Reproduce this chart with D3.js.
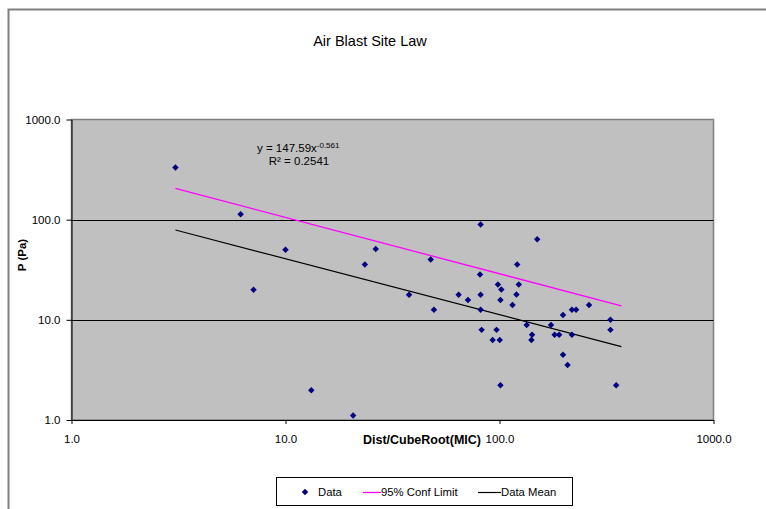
<!DOCTYPE html>
<html><head><meta charset="utf-8">
<script src="https://cdn.jsdelivr.net/npm/d3@7"></script>
<style>body{margin:0;background:#fff;}svg{display:block;}text{font-family:"Liberation Sans",Arial,sans-serif;}</style>
</head><body>
<script>
const dataX = [3.06,6.17,7.09,10.0,13.2,20.7,23.5,26.4,37.8,47.7,49.4,64.4,71.2,81.6,81.1,81.6,81.6,82.5,92.9,96.9,98.3,100.3,101,101,102,115,120,121,123,134,141,142,150,174,181,190,198,198,208,218,218,228,262,330,330,351];
const dataY = [331,113,20,50,1.98,1.11,35.7,51,17.8,40.1,12.6,17.8,15.8,89.7,28.4,17.8,12.6,7.94,6.3,7.94,22.5,6.3,2.22,15.8,20.1,14.1,17.9,35.7,22.5,8.9,6.3,7.08,63.6,8.9,7.08,7.08,11.2,4.47,3.55,12.6,7.08,12.6,14.1,10.0,7.94,2.22];
const confX = [3.06, 371];
const confY = [205, 13.8];
const meanX = [3.06, 371];
const meanY = [78.9, 5.41];
const tickVals = [1, 10, 100, 1000];
const tickLabels = ["1.0", "10.0", "100.0", "1000.0"];
const gridVals = [10, 100];
const titleText = "Air Blast Site Law";
const xTitle = "Dist/CubeRoot(MIC)";
const yTitle = "P (Pa)";
const eqLines = ["y = 147.59x", "-0.561", "R² = 0.2541"];
const legendNames = ["Data", "95% Conf Limit", "Data Mean"];

const W = 766, H = 509;
const svg = d3.select("body").append("svg").attr("width", W).attr("height", H);

// outer chart border
svg.append("rect").attr("x", 8.5).attr("y", 9.5).attr("width", 780).attr("height", 520)
  .attr("fill", "#fff").attr("stroke", "#808080").attr("stroke-width", 2);

const L = 71.5, R = 713.5, T = 119.5, B = 420;
const x = d3.scaleLog().domain([1, 1000]).range([L, R]);
const y = d3.scaleLog().domain([1, 1000]).range([B, T]);

// plot area
svg.append("rect").attr("x", L).attr("y", T).attr("width", R - L).attr("height", B - T)
  .attr("fill", "#C0C0C0").attr("stroke", "#808080").attr("stroke-width", 1.5);

// gridlines
svg.selectAll("line.grid").data(gridVals).enter().append("line")
  .attr("x1", L).attr("x2", R).attr("y1", d => Math.round(y(d)) + 0.5).attr("y2", d => Math.round(y(d)) + 0.5)
  .attr("stroke", "#000").attr("stroke-width", 1);

// axes
const xAxis = d3.axisBottom(x).tickValues(tickVals).tickFormat((d, i) => tickLabels[i]).tickSizeOuter(0).tickSizeInner(4).tickPadding(11);
const gx = svg.append("g").attr("transform", `translate(0,${B})`).call(xAxis);
gx.select(".domain").attr("stroke", "#000");
gx.selectAll("text").attr("font-size", 11.5).attr("fill", "#000").attr("font-family", "Liberation Sans, Arial, sans-serif");

const yAxis = d3.axisLeft(y).tickValues(tickVals).tickFormat((d, i) => tickLabels[i]).tickSizeOuter(0).tickSizeInner(5).tickPadding(6);
const gy = svg.append("g").attr("transform", `translate(${L},0)`).call(yAxis);
gy.select(".domain").attr("stroke", "#000");
gy.selectAll("text").attr("font-size", 11.5).attr("fill", "#000").attr("font-family", "Liberation Sans, Arial, sans-serif");

// lines
const line = d3.line().x(d => x(d[0])).y(d => y(d[1]));
svg.append("path").datum(confX.map((v, i) => [v, confY[i]])).attr("d", line)
  .attr("fill", "none").attr("stroke", "#FF00FF").attr("stroke-width", 1.3);
svg.append("path").datum(meanX.map((v, i) => [v, meanY[i]])).attr("d", line)
  .attr("fill", "none").attr("stroke", "#000").attr("stroke-width", 1.2);

// points
svg.selectAll("path.pt").data(dataX.map((v, i) => [v, dataY[i]])).enter().append("path")
  .attr("class", "pt")
  .attr("d", d3.symbol().type(d3.symbolSquare).size(21))
  .attr("transform", d => `translate(${x(d[0])},${y(d[1])}) rotate(45)`)
  .attr("fill", "#000080");

// title
svg.append("text").attr("x", 370).attr("y", 46).attr("text-anchor", "middle")
  .attr("font-size", 14.5).text(titleText);

// axis titles
svg.append("text").attr("x", 422).attr("y", 444).attr("text-anchor", "middle")
  .attr("font-size", 12.5).attr("font-weight", "bold").text(xTitle);
svg.append("text").attr("transform", "translate(26,255) rotate(-90)").attr("text-anchor", "middle")
  .attr("font-size", 11.5).attr("font-weight", "bold").text(yTitle);

// equation
const eq = svg.append("text").attr("x", 257).attr("y", 152).attr("font-size", 11.5);
eq.append("tspan").text(eqLines[0]);
eq.append("tspan").attr("dy", -4).attr("font-size", 8).text(eqLines[1]);
svg.append("text").attr("x", 299).attr("y", 165).attr("text-anchor", "middle").attr("font-size", 11.5).text(eqLines[2]);

// legend
const lg = svg.append("g");
lg.append("rect").attr("x", 276.5).attr("y", 477.5).attr("width", 296).attr("height", 28)
  .attr("fill", "#fff").attr("stroke", "#000").attr("stroke-width", 1);
lg.append("path").attr("d", d3.symbol().type(d3.symbolSquare).size(21))
  .attr("transform", "translate(305,492) rotate(45)").attr("fill", "#000080");
lg.append("text").attr("x", 318).attr("y", 496).attr("font-size", 11.3).text(legendNames[0]);
lg.append("line").attr("x1", 363).attr("x2", 381).attr("y1", 492.5).attr("y2", 492.5).attr("stroke", "#FF00FF").attr("stroke-width", 1.3);
lg.append("text").attr("x", 381).attr("y", 496).attr("font-size", 11.3).text(legendNames[1]);
lg.append("line").attr("x1", 478).attr("x2", 501).attr("y1", 492.5).attr("y2", 492.5).attr("stroke", "#000").attr("stroke-width", 1.2);
lg.append("text").attr("x", 501).attr("y", 496).attr("font-size", 11.3).text(legendNames[2]);
</script>
</body></html>
